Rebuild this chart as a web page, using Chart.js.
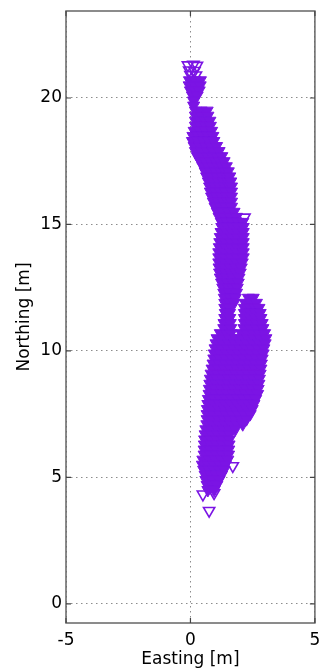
<!DOCTYPE html>
<html>
<head>
<meta charset="utf-8">
<script src="https://cdn.jsdelivr.net/npm/chart.js@4.4.1/dist/chart.umd.min.js"></script>
<style>
  html, body { margin: 0; padding: 0; background: #fff; }
</style>
</head>
<body>
<canvas id="track" width="323" height="670"></canvas>
<script>
// track positions, one row of eastings per northing level
const northing = [
  20.7, 20.5, 20.3, 20.1, 19.9, 19.7, 19.5, 19.3, 19.1, 18.9,
  18.7, 18.5, 18.3, 18.1, 17.9, 17.7, 17.5, 17.3, 17.1, 16.9,
  16.7, 16.5, 16.3, 16.1, 15.9, 15.7, 15.5, 15.3, 15.1, 14.9,
  14.7, 14.5, 14.3, 14.1, 13.9, 13.7, 13.5, 13.3, 13.1, 12.9,
  12.7, 12.5, 12.3, 12.1, 11.9, 11.7, 11.5, 11.3, 11.1, 10.9,
  10.7, 10.5, 10.3, 10.1, 9.9, 9.7, 9.5, 9.3, 9.1, 8.9,
  8.7, 8.5, 8.3, 8.1, 7.9, 7.7, 7.5, 7.3, 7.1, 6.9,
  6.7, 6.5, 6.3, 6.1, 5.9, 5.7, 5.5, 5.3, 5.1, 4.9,
  4.7, 4.5
];
const easting = [
  [-0.04, 0.18, 0.4], [-0.05, 0.17, 0.39], [0.0, 0.18, 0.35], [0.08, 0.27], [0.12], [0.13],
  [0.2, 0.43, 0.67], [0.2, 0.44, 0.7], [0.2, 0.39, 0.59, 0.78], [0.2, 0.4, 0.6, 0.8],
  [0.15, 0.37, 0.6, 0.85], [0.1, 0.3, 0.5, 0.7, 0.9], [0.08, 0.3, 0.52, 0.73, 0.94],
  [0.15, 0.37, 0.6, 0.82, 1.05], [0.2, 0.43, 0.67, 0.9, 1.15],
  [0.28, 0.48, 0.68, 0.88, 1.07, 1.26], [0.4, 0.6, 0.8, 1.0, 1.18, 1.35],
  [0.5, 0.7, 0.9, 1.1, 1.27, 1.44], [0.59, 0.8, 1.0, 1.2, 1.38, 1.52],
  [0.65, 0.86, 1.07, 1.28, 1.45, 1.58], [0.72, 0.92, 1.12, 1.32, 1.5, 1.62],
  [0.77, 0.97, 1.17, 1.37, 1.55, 1.65], [0.8, 1.0, 1.2, 1.4, 1.65],
  [0.85, 1.05, 1.25, 1.45, 1.65], [0.92, 1.12, 1.32, 1.5, 1.65], [0.99, 1.2, 1.42, 1.65],
  [1.08, 1.3, 1.52, 1.75], [1.15, 1.37, 1.6, 1.85], [1.24, 1.46, 1.68, 1.9, 2.1],
  [1.26, 1.48, 1.7, 1.91, 2.12], [1.23, 1.45, 1.67, 1.89, 2.12], [1.2, 1.43, 1.66, 1.89, 2.12],
  [1.18, 1.4, 1.63, 1.87, 2.12], [1.16, 1.4, 1.64, 1.88, 2.12], [1.14, 1.38, 1.62, 1.87, 2.12],
  [1.14, 1.38, 1.63, 1.88, 2.12], [1.14, 1.38, 1.62, 1.85, 2.08], [1.15, 1.37, 1.6, 1.82, 2.04],
  [1.17, 1.4, 1.62, 1.82, 2.0], [1.2, 1.45, 1.7, 1.95], [1.25, 1.48, 1.7, 1.92],
  [1.3, 1.52, 1.7, 1.88], [1.34, 1.56, 1.85], [1.36, 1.6, 1.8, 2.33, 2.52],
  [1.38, 1.58, 1.75, 2.2, 2.42, 2.65], [1.38, 1.57, 2.17, 2.4, 2.6, 2.75],
  [1.4, 1.57, 2.17, 2.4, 2.62, 2.8], [1.38, 1.58, 2.17, 2.4, 2.62, 2.83],
  [1.35, 1.6, 2.17, 2.4, 2.64, 2.88], [1.34, 1.62, 2.15, 2.4, 2.65, 2.91],
  [1.2, 1.45, 1.62, 2.05, 2.28, 2.52, 2.76, 2.98],
  [1.07, 1.31, 1.56, 1.8, 2.05, 2.3, 2.54, 2.79, 3.03],
  [1.03, 1.28, 1.52, 1.77, 2.01, 2.26, 2.51, 2.75, 3.0],
  [0.99, 1.24, 1.48, 1.73, 1.97, 2.22, 2.46, 2.71, 2.95],
  [0.96, 1.2, 1.45, 1.7, 1.94, 2.19, 2.43, 2.68, 2.92],
  [0.94, 1.18, 1.42, 1.67, 1.91, 2.15, 2.4, 2.64, 2.88],
  [0.91, 1.15, 1.4, 1.64, 1.88, 2.12, 2.36, 2.6, 2.85],
  [0.87, 1.12, 1.36, 1.6, 1.85, 2.1, 2.34, 2.58, 2.83],
  [0.83, 1.08, 1.32, 1.57, 1.82, 2.06, 2.31, 2.55, 2.8],
  [0.8, 1.05, 1.29, 1.54, 1.78, 2.03, 2.28, 2.52, 2.77],
  [0.78, 1.03, 1.27, 1.52, 1.76, 2.01, 2.26, 2.5, 2.75],
  [0.76, 1.0, 1.25, 1.5, 1.74, 1.99, 2.23, 2.48, 2.72],
  [0.75, 0.99, 1.24, 1.48, 1.72, 1.97, 2.21, 2.46, 2.7],
  [0.72, 0.96, 1.19, 1.43, 1.67, 1.91, 2.15, 2.38, 2.62],
  [0.7, 0.93, 1.16, 1.39, 1.63, 1.86, 2.09, 2.32, 2.55],
  [0.68, 0.9, 1.13, 1.36, 1.58, 1.8, 2.03, 2.26, 2.48],
  [0.67, 0.92, 1.16, 1.41, 1.66, 1.91, 2.15, 2.4],
  [0.67, 0.9, 1.12, 1.35, 1.57, 1.8, 2.03, 2.25],
  [0.66, 0.9, 1.14, 1.38, 1.62, 1.86, 2.1],
  [0.62, 0.86, 1.09, 1.33, 1.56, 1.8],
  [0.59, 0.84, 1.08, 1.33, 1.57], [0.57, 0.82, 1.06, 1.31, 1.56],
  [0.56, 0.81, 1.05, 1.3, 1.55], [0.55, 0.8, 1.04, 1.29, 1.54],
  [0.55, 0.8, 1.04, 1.28, 1.53], [0.5, 0.75, 1.0, 1.25, 1.5],
  [0.48, 0.71, 0.94, 1.17, 1.4], [0.53, 0.74, 0.94, 1.15, 1.35],
  [0.59, 0.81, 1.03, 1.25], [0.62, 0.88, 1.15], [0.67, 0.87, 1.06], [0.7, 0.95]
];
// sparse fixes at the ends of the track
const strayEasting  = [-0.1, 0.12, 0.26, -0.05, 0.16, 0.0, 0.22, 2.17, 1.7, 0.5, 0.95, 0.75];
const strayNorthing = [21.3, 21.32, 21.28, 21.1, 21.08, 20.92, 20.9, 15.28, 5.45, 4.33, 4.38, 3.68];

const xTicks = [-5, 0, 5];
const yTicks = [0, 5, 10, 15, 20];

const purple = '#7b14e4';

const trackPoints = northing.flatMap((n, i) => easting[i].map(e => ({ x: e, y: n })));
const strayPoints = strayEasting.map((e, i) => ({ x: e, y: strayNorthing[i] }));

// box round the axes with inward tick marks
const frame = {
  id: 'frame',
  afterDraw(chart) {
    const { ctx, chartArea: a, scales } = chart;
    ctx.save();
    ctx.strokeStyle = '#666';
    ctx.lineWidth = 1.5;
    ctx.strokeRect(a.left, a.top, a.right - a.left, a.bottom - a.top);
    ctx.strokeStyle = '#444';
    ctx.lineWidth = 1.2;
    ctx.beginPath();
    xTicks.forEach(v => {
      const px = scales.x.getPixelForValue(v);
      ctx.moveTo(px, a.bottom); ctx.lineTo(px, a.bottom - 5);
      ctx.moveTo(px, a.top); ctx.lineTo(px, a.top + 5);
    });
    yTicks.forEach(v => {
      const py = scales.y.getPixelForValue(v);
      ctx.moveTo(a.left, py); ctx.lineTo(a.left + 5, py);
      ctx.moveTo(a.right, py); ctx.lineTo(a.right - 5, py);
    });
    ctx.stroke();
    ctx.restore();
  }
};

Chart.defaults.font.family = "'DejaVu Sans', sans-serif";
Chart.defaults.font.size = 17;
Chart.defaults.color = '#000';

const ctx = document.getElementById('track').getContext('2d');
const chart = new Chart(ctx, {
  type: 'scatter',
  data: {
    datasets: [{
      data: trackPoints,
      pointStyle: 'triangle',
      rotation: 180,
      pointRadius: 7,
      backgroundColor: purple,
      borderColor: purple,
      borderWidth: 1
    }, {
      data: strayPoints,
      pointStyle: 'triangle',
      rotation: 180,
      pointRadius: 6.5,
      backgroundColor: 'rgba(255,255,255,0)',
      borderColor: purple,
      borderWidth: 1.6
    }]
  },
  options: {
    responsive: false,
    animation: false,
    events: [],
    layout: { padding: { top: 11, right: 3, left: 0, bottom: 0 } },
    plugins: { legend: { display: false }, tooltip: { enabled: false } },
    scales: {
      x: {
        type: 'linear',
        min: -5,
        max: 5,
        afterBuildTicks: s => { s.ticks = xTicks.map(v => ({ value: v })); },
        afterFit: s => { s.height = 47; s.paddingLeft = 0; s.paddingRight = 0; },
        ticks: { padding: 7 },
        grid: { color: '#8c8c8c', lineWidth: 1, drawTicks: false },
        border: { display: false, dash: [1.5, 3.5] },
        title: { display: true, text: 'Easting [m]', padding: { top: 0, bottom: 0 } }
      },
      y: {
        type: 'linear',
        min: -0.76,
        max: 23.44,
        afterBuildTicks: s => { s.ticks = yTicks.map(v => ({ value: v })); },
        afterFit: s => { s.width = 66; s.paddingTop = 0; s.paddingBottom = 0; },
        ticks: { padding: 4 },
        grid: { color: '#8c8c8c', lineWidth: 1, drawTicks: false },
        border: { display: false, dash: [1.5, 3.5] },
        title: { display: true, text: 'Northing [m]', padding: { top: 14, bottom: 0 } }
      }
    }
  },
  plugins: [frame]
});
</script>
</body>
</html>
